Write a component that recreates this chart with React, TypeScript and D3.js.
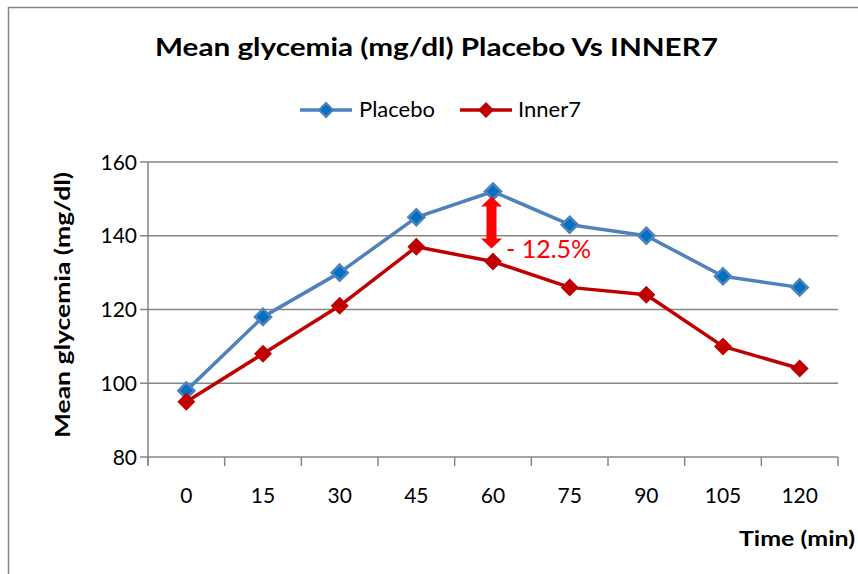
import React from "react";
import * as d3 from "d3";

const categories = ["0", "15", "30", "45", "60", "75", "90", "105", "120"];
const placebo = [98, 118, 130, 145, 152, 143, 140, 129, 126];
const inner7 = [95, 108, 121, 137, 133, 126, 124, 110, 104];
const yTicks = [80, 100, 120, 140, 160];
const seriesNames = ["Placebo", "Inner7"];
const title = "Mean glycemia (mg/dl) Placebo Vs INNER7";
const yTitle = "Mean glycemia (mg/dl)";
const xTitle = "Time (min)";
const annotation = "- 12.5%";
const annotationIndex = 4;

const W = 858, H = 574;
const left = 148, right = 838, top = 162, bottom = 457;
const font = "Lato, 'Open Sans', sans-serif";
const grid = "#868686";
const blue = "#4F81BD", blueFill = "#0070C0", red = "#C00000";

function diamond(cx: number, cy: number, r: number) {
  return `M${cx},${cy - r}L${cx + r},${cy}L${cx},${cy + r}L${cx - r},${cy}Z`;
}

export default function App() {
  const x = d3.scaleBand().domain(categories).range([left, right]);
  const y = d3.scaleLinear().domain([80, 160]).range([bottom, top]);
  const cx = (c: string) => (x(c) as number) + x.bandwidth() / 2;
  const line = d3.line<number>().x((_, i) => cx(categories[i])).y((v) => y(v));

  const ax = cx(categories[annotationIndex]) - 1.5;
  const aTop = y(placebo[annotationIndex]) + 5;
  const aBot = y(inner7[annotationIndex]) - 13;
  const hh = 10, hw = 10.5, sw = 5;
  const arrow = `M${ax},${aTop}L${ax + hw},${aTop + hh}L${ax + sw},${aTop + hh}L${ax + sw},${aBot - hh}L${ax + hw},${aBot - hh}L${ax},${aBot}L${ax - hw},${aBot - hh}L${ax - sw},${aBot - hh}L${ax - sw},${aTop + hh}L${ax - hw},${aTop + hh}Z`;

  const edges = [left, ...categories.map((c) => (x(c) as number) + x.bandwidth())];

  return (
    <svg width={W} height={H} style={{ position: "absolute", left: 0, top: 0 }} fontFamily={font}>
      <rect x={0} y={0} width={W} height={H} fill="#fff" />
      <path d={`M8.5,${H}V7.5H${W}`} fill="none" stroke={grid} strokeWidth={1.5} />
      <text x={155} y={56} fontSize={25} fontWeight="bold" fill="#000" textLength={563} lengthAdjust="spacingAndGlyphs">{title}</text>

      {/* legend */}
      <g>
        <line x1={300} x2={352} y1={110} y2={110} stroke={blue} strokeWidth={3.5} />
        <path d={diamond(326, 110, 7)} fill={blueFill} stroke={blue} strokeWidth={2} />
        <text x={359} y={117} fontSize={22} fill="#000">{seriesNames[0]}</text>
        <line x1={460} x2={512} y1={110} y2={110} stroke={red} strokeWidth={3.5} />
        <path d={diamond(486, 110, 8)} fill={red} />
        <text x={518} y={117} fontSize={22} fill="#000">{seriesNames[1]}</text>
      </g>

      {/* gridlines */}
      {yTicks.map((t) => (
        <g key={t}>
          <line x1={left - 8} x2={right} y1={y(t)} y2={y(t)} stroke={grid} strokeWidth={1.5} />
          <text x={137} y={y(t) + 7.5} textAnchor="end" fontSize={21} fill="#000">{t}</text>
        </g>
      ))}
      <line x1={left} x2={left} y1={top} y2={bottom + 8} stroke={grid} strokeWidth={1.5} />
      {edges.map((e, i) => (
        <line key={i} x1={e} x2={e} y1={bottom} y2={bottom + 9} stroke={grid} strokeWidth={1.5} />
      ))}
      {categories.map((c) => (
        <text key={c} x={cx(c)} y={503} textAnchor="middle" fontSize={21} fill="#000">{c}</text>
      ))}

      <text transform={`translate(70,438) rotate(-90)`} fontSize={20} fontWeight="bold" fill="#000" textLength={266} lengthAdjust="spacingAndGlyphs">{yTitle}</text>
      <text x={739} y={546} fontSize={20} fontWeight="bold" fill="#000" textLength={116} lengthAdjust="spacingAndGlyphs">{xTitle}</text>

      {/* series */}
      <path d={line(placebo) as string} fill="none" stroke={blue} strokeWidth={3.5} strokeLinejoin="round" />
      {placebo.map((v, i) => (
        <path key={i} d={diamond(cx(categories[i]), y(v), 8)} fill={blueFill} stroke={blue} strokeWidth={2.5} />
      ))}
      <path d={line(inner7) as string} fill="none" stroke={red} strokeWidth={3.5} strokeLinejoin="round" />
      {inner7.map((v, i) => (
        <path key={i} d={diamond(cx(categories[i]), y(v), 9)} fill={red} />
      ))}

      <path d={arrow} fill="#FF0000" />
      <text x={506} y={258} fontSize={25} fill="#FF0000">{annotation}</text>
    </svg>
  );
}
